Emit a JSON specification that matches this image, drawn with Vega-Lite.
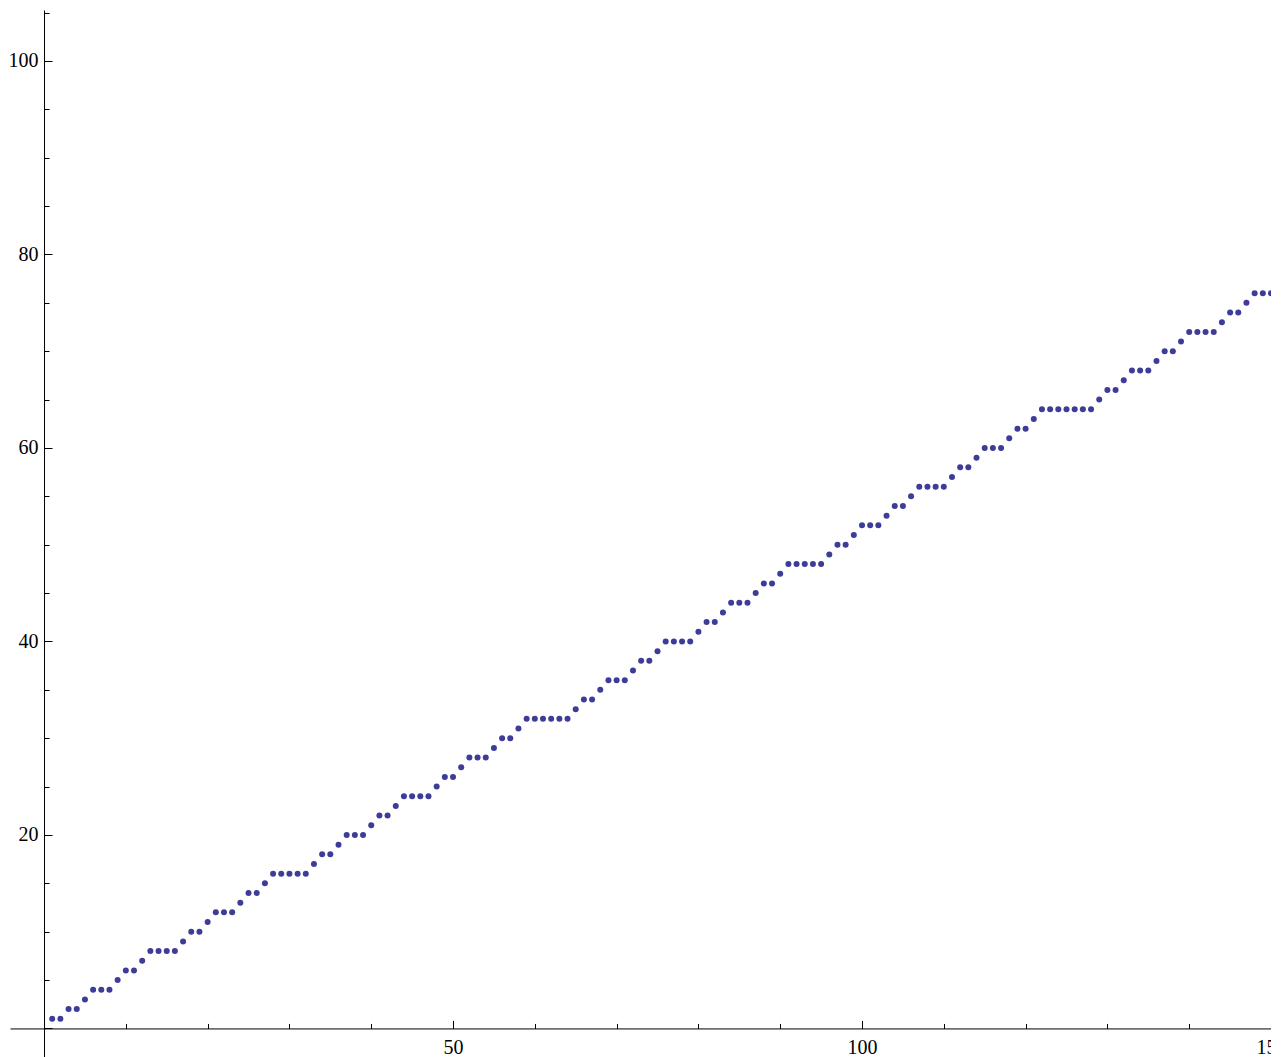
{
  "$schema": "https://vega.github.io/schema/vega-lite/v6.json",
  "autosize": {"type": "none"},
  "padding": {"left": 10, "top": 10, "right": 0, "bottom": 0},
  "width": 1261,
  "height": 1047,
  "background": "white",
  "config": {"view": {"stroke": null}},
  "data": {"values": [
    {"n":1,"a":1},{"n":2,"a":1},{"n":3,"a":2},{"n":4,"a":2},{"n":5,"a":3},{"n":6,"a":4},{"n":7,"a":4},{"n":8,"a":4},{"n":9,"a":5},{"n":10,"a":6},
    {"n":11,"a":6},{"n":12,"a":7},{"n":13,"a":8},{"n":14,"a":8},{"n":15,"a":8},{"n":16,"a":8},{"n":17,"a":9},{"n":18,"a":10},{"n":19,"a":10},{"n":20,"a":11},
    {"n":21,"a":12},{"n":22,"a":12},{"n":23,"a":12},{"n":24,"a":13},{"n":25,"a":14},{"n":26,"a":14},{"n":27,"a":15},{"n":28,"a":16},{"n":29,"a":16},{"n":30,"a":16},
    {"n":31,"a":16},{"n":32,"a":16},{"n":33,"a":17},{"n":34,"a":18},{"n":35,"a":18},{"n":36,"a":19},{"n":37,"a":20},{"n":38,"a":20},{"n":39,"a":20},{"n":40,"a":21},
    {"n":41,"a":22},{"n":42,"a":22},{"n":43,"a":23},{"n":44,"a":24},{"n":45,"a":24},{"n":46,"a":24},{"n":47,"a":24},{"n":48,"a":25},{"n":49,"a":26},{"n":50,"a":26},
    {"n":51,"a":27},{"n":52,"a":28},{"n":53,"a":28},{"n":54,"a":28},{"n":55,"a":29},{"n":56,"a":30},{"n":57,"a":30},{"n":58,"a":31},{"n":59,"a":32},{"n":60,"a":32},
    {"n":61,"a":32},{"n":62,"a":32},{"n":63,"a":32},{"n":64,"a":32},{"n":65,"a":33},{"n":66,"a":34},{"n":67,"a":34},{"n":68,"a":35},{"n":69,"a":36},{"n":70,"a":36},
    {"n":71,"a":36},{"n":72,"a":37},{"n":73,"a":38},{"n":74,"a":38},{"n":75,"a":39},{"n":76,"a":40},{"n":77,"a":40},{"n":78,"a":40},{"n":79,"a":40},{"n":80,"a":41},
    {"n":81,"a":42},{"n":82,"a":42},{"n":83,"a":43},{"n":84,"a":44},{"n":85,"a":44},{"n":86,"a":44},{"n":87,"a":45},{"n":88,"a":46},{"n":89,"a":46},{"n":90,"a":47},
    {"n":91,"a":48},{"n":92,"a":48},{"n":93,"a":48},{"n":94,"a":48},{"n":95,"a":48},{"n":96,"a":49},{"n":97,"a":50},{"n":98,"a":50},{"n":99,"a":51},{"n":100,"a":52},
    {"n":101,"a":52},{"n":102,"a":52},{"n":103,"a":53},{"n":104,"a":54},{"n":105,"a":54},{"n":106,"a":55},{"n":107,"a":56},{"n":108,"a":56},{"n":109,"a":56},{"n":110,"a":56},
    {"n":111,"a":57},{"n":112,"a":58},{"n":113,"a":58},{"n":114,"a":59},{"n":115,"a":60},{"n":116,"a":60},{"n":117,"a":60},{"n":118,"a":61},{"n":119,"a":62},{"n":120,"a":62},
    {"n":121,"a":63},{"n":122,"a":64},{"n":123,"a":64},{"n":124,"a":64},{"n":125,"a":64},{"n":126,"a":64},{"n":127,"a":64},{"n":128,"a":64},{"n":129,"a":65},{"n":130,"a":66},
    {"n":131,"a":66},{"n":132,"a":67},{"n":133,"a":68},{"n":134,"a":68},{"n":135,"a":68},{"n":136,"a":69},{"n":137,"a":70},{"n":138,"a":70},{"n":139,"a":71},{"n":140,"a":72},
    {"n":141,"a":72},{"n":142,"a":72},{"n":143,"a":72},{"n":144,"a":73},{"n":145,"a":74},{"n":146,"a":74},{"n":147,"a":75},{"n":148,"a":76},{"n":149,"a":76},{"n":150,"a":76}
  ]},
  "mark": {"type": "point", "filled": true, "size": 36, "color": "#3d3d99", "opacity": 1, "strokeWidth": 0},
  "encoding": {
    "x": {
      "field": "n", "type": "quantitative",
      "scale": {"domain": [-4.16, 150], "nice": false, "zero": false},
      "axis": {
        "title": null, "grid": false, "orient": "bottom", "offset": -28.55,
        "values": [0,10,20,30,40,50,60,70,80,90,100,110,120,130,140,150],
        "labelExpr": "datum.value % 50 === 0 && datum.value !== 0 ? datum.label : ''",
        "tickSize": {"condition": {"test": "datum.value % 50 === 0", "value": -8}, "value": -5},
        "tickColor": "black", "tickWidth": 1,
        "domainColor": "black", "domainWidth": 1,
        "labelFont": "Liberation Serif", "labelFontSize": 20, "labelColor": "black",
        "labelPadding": 17, "labelBaseline": "top", "labelFlush": false, "labelOverlap": false
      }
    },
    "y": {
      "field": "a", "type": "quantitative",
      "scale": {"domain": [-2.95, 105.27], "nice": false, "zero": false},
      "axis": {
        "title": null, "grid": false, "orient": "left", "offset": -34.03,
        "values": [0,5,10,15,20,25,30,35,40,45,50,55,60,65,70,75,80,85,90,95,100,105],
        "labelExpr": "datum.value % 20 === 0 && datum.value !== 0 ? datum.label : ''",
        "tickSize": {"condition": {"test": "datum.value % 20 === 0", "value": -8}, "value": -5},
        "tickColor": "black", "tickWidth": 1,
        "domainColor": "black", "domainWidth": 1,
        "labelFont": "Liberation Serif", "labelFontSize": 20, "labelColor": "black",
        "labelPadding": 14, "labelFlush": false, "labelOverlap": false
      }
    }
  }
}
